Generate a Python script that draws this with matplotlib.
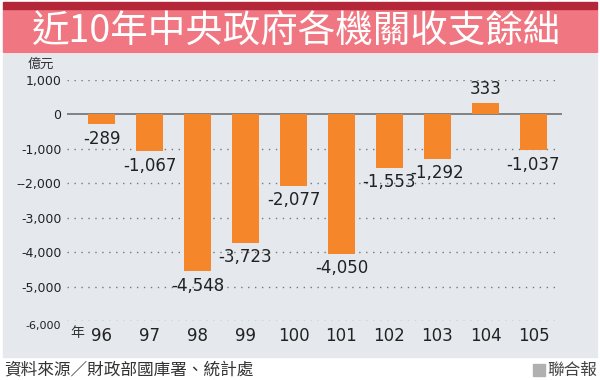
import matplotlib.pyplot as plt
from matplotlib.patches import Rectangle

plt.rcParams['font.family'] = ['Noto Sans CJK TC', 'DejaVu Sans']

years = ['96', '97', '98', '99', '100', '101', '102', '103', '104', '105']
values = [-289, -1067, -4548, -3723, -2077, -4050, -1553, -1292, 333, -1037]
labels = ['-289', '-1,067', '-4,548', '-3,723', '-2,077', '-4,050', '-1,553', '-1,292', '333', '-1,037']
yticks = [1000, 0, -1000, -2000, -3000, -4000, -5000, -6000]
ytick_labels = ['1,000', '0', '-1,000', '--2,000', '-3,000', '-4,000', '-5,000', '-6,000']

W, H = 600, 380
fig = plt.figure(figsize=(6, 3.8), dpi=100)
fig.patch.set_facecolor('white')


def band(x0, y0, x1, y1, color, z=0):
    # rectangle in pixel coords measured from the top-left corner
    fig.patches.append(Rectangle((x0 / W, (H - y1) / H), (x1 - x0) / W, (y1 - y0) / H,
                                 transform=fig.transFigure, color=color, zorder=z))


band(3, 54, 597, 357, '#e5e9ee')
band(3, 9, 597, 52, '#f07681')
band(3, 2, 597, 9, '#b32739')

fig.text(297 / W, (H - 31) / H, '近10年中央政府各機關收支餘絀', color='white', fontsize=27,
         ha='center', va='center')

ax = fig.add_axes([67 / W, (H - 321) / H, (562 - 67) / W, (321 - 80) / H])
ax.set_zorder(5)
ax.set_facecolor('none')
x = list(range(len(years)))
ax.bar(x, values, width=0.5625, color='#f5872a', zorder=3)
ax.set_xlim(-0.719, 9.594)
ax.set_ylim(-6000, 1000)

for v in yticks:
    if v == 0:
        ax.axhline(0, color='#707070', lw=1.2, zorder=2)
    else:
        ax.axhline(v, xmax=0.99, color='#777777', lw=1, ls=(0, (1, 4)), zorder=1)

for xi, v, lab in zip(x, values, labels):
    if v >= 0:
        ax.annotate(lab, (xi, v), xytext=(0, 3.6), textcoords='offset points',
                    ha='center', va='bottom', fontsize=12, color='#222222', family='DejaVu Sans')
    else:
        ax.annotate(lab, (xi, v), xytext=(0, -4), textcoords='offset points',
                    ha='center', va='top', fontsize=12, color='#222222', family='DejaVu Sans')

for s in ax.spines.values():
    s.set_visible(False)
ax.set_yticks(yticks)
ax.set_yticklabels(ytick_labels, fontsize=9, color='#222222', family='DejaVu Sans')
ax.tick_params(axis='y', length=0, pad=4)
last = ax.get_yticklabels()[-1]
last.set_fontsize(8)
last.set_va('top')
ax.set_xticks(x)
ax.set_xticklabels(years, fontsize=12, color='#222222', family='DejaVu Sans')
ax.tick_params(axis='x', length=0, pad=4.5)

fig.text(77 / W, (H - 333) / H, '年', fontsize=10, color='#333333', ha='center', va='center')
fig.text(28 / W, (H - 64) / H, '億元', fontsize=9.5, color='#333333', ha='left', va='center')

fig.text(4 / W, (H - 370) / H, '資料來源／財政部國庫署、統計處', fontsize=12, color='#333333',
         ha='left', va='center')
fig.text(597 / W, (H - 370) / H, '聯合報', fontsize=12, color='#444444', ha='right', va='center')
band(533, 364, 545, 376, '#b0b0b0', z=1)

fig.savefig('out.png', dpi=100)
